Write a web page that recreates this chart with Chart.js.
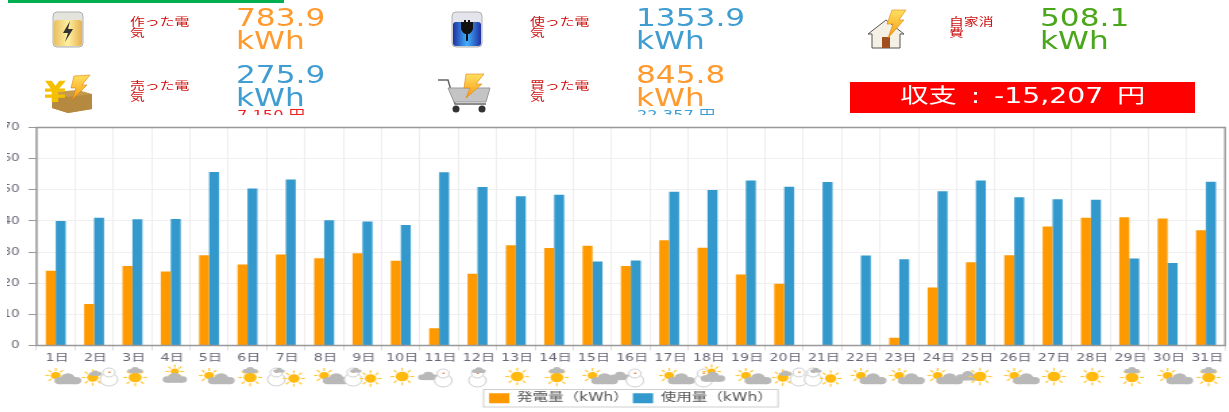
<!DOCTYPE html>
<html lang="ja">
<head>
<meta charset="utf-8">
<title>発電量と使用量</title>
<script src="https://cdn.jsdelivr.net/npm/chart.js@4"></script>
<style>
html, body { margin: 0; padding: 0; background: #fff; overflow: hidden; }
body { width: 1229px; height: 412px; position: relative; font-family: "DejaVu Sans", "Noto Sans CJK JP", sans-serif; }
.abs { position: absolute; }
#bar { left: 8px; top: 0; width: 276px; height: 3px; background: #00b050; z-index: 5; }
.name { color: #cc1111; font-size: 11px; line-height: 11px; width: 46px; transform: scaleX(1.35); transform-origin: 0 0; filter: blur(.3px); }
.val { font-size: 24px; line-height: 22.5px; width: 90px; transform: scaleX(1.3); transform-origin: 0 0; white-space: pre-line; filter: blur(.3px); }
.yenWrap { height: 7px; width: 110px; overflow: hidden; }
.yen { font-size: 12.5px; line-height: 14px; white-space: nowrap; transform: scaleX(1.3); transform-origin: 0 0; }
#balance { left: 850px; top: 82px; width: 345px; height: 31px; background: #ff0000; color: #fff; text-align: center; line-height: 29px; }
#balance span { display: inline-block; font-size: 20.5px; word-spacing: 3.5px; transform: scaleX(1.38); filter: blur(.3px); }
#wrap { left: 7px; top: 115px; width: 906px; height: 297px; transform: scaleX(1.35); transform-origin: 0 0; filter: blur(.35px); }
svg { position: absolute; filter: blur(.4px); }
</style>
</head>
<body>

<svg style="left:50px;top:9px" width="36" height="40" viewBox="0 0 36 40">
  <defs><linearGradient id="gy" x1="0" x2="1"><stop offset="0" stop-color="#e8c060"/><stop offset=".5" stop-color="#fff0a0"/><stop offset="1" stop-color="#e8b050"/></linearGradient>
  <linearGradient id="gb" x1="0" x2="1"><stop offset="0" stop-color="#2030a0"/><stop offset=".5" stop-color="#40b0ff"/><stop offset="1" stop-color="#2030a0"/></linearGradient>
  <linearGradient id="gs" x1="0" y1="0" x2="0" y2="1"><stop offset="0" stop-color="#ffe060"/><stop offset="1" stop-color="#f59a10"/></linearGradient></defs>
  <rect x="3" y="3" width="30" height="35" rx="4" fill="#e4e4dc" stroke="#b0b0b0"/>
  <rect x="4" y="11" width="28" height="26" rx="3" fill="url(#gy)"/>
  <path d="M20 12 L13 24 L18 24 L15 33 L23 20 L18 20 Z" fill="#333"/>
</svg>
<svg style="left:449px;top:9px" width="36" height="40" viewBox="0 0 36 40">
  <rect x="3" y="3" width="30" height="35" rx="4" fill="#e4e4ec" stroke="#b0b0b0"/>
  <rect x="4" y="13" width="28" height="24" rx="3" fill="url(#gb)"/>
  <path d="M12 13 h3 v-2 h2 v2 h2 v-2 h2 v2 h3 v7 q-2 5 -5 5 v7 h-2 v-7 q-3 0 -5 -5 Z" fill="#111"/>
</svg>
<svg style="left:866px;top:8px" width="44" height="42" viewBox="0 0 44 42">
  <path d="M2 26 L20 12 L38 26 L34 26 L34 40 L6 40 L6 26 Z" fill="#f4f0e4" stroke="#555"/>
  <rect x="16" y="29" width="8" height="11" fill="#a05020"/>
  <path d="M26 2 L40 2 L33 12 L38 12 L22 30 L27 16 L21 16 Z" fill="url(#gs)" stroke="#e08010" stroke-width=".6"/>
</svg>
<svg style="left:44px;top:74px" width="52" height="40" viewBox="0 0 52 40">
  <path d="M8 18 L34 16 L48 20 L48 35 L24 39 L8 34 Z" fill="#c49a4c"/>
  <path d="M8 18 L24 23 L48 20 L48 35 L24 39 L8 34 Z" fill="#b5893f"/>
  <path d="M0 8 h7 l4 6 l4 -6 h7 l-7 9 h6 v4 h-7 v3 h7 v4 h-7 v5 h-7 v-5 h-7 v-4 h7 v-3 h-7 v-4 h6 Z" fill="#f5c000" transform="translate(1 0) scale(.95 .85)"/>
  <path d="M30 2 L46 1 L38 11 L43 11 L28 26 L32 14 L27 14 Z" fill="url(#gs)" stroke="#e08010" stroke-width=".6"/>
</svg>
<svg style="left:436px;top:72px" width="58" height="42" viewBox="0 0 58 42">
  <path d="M2 8 L12 8 L19 32 L50 32" fill="none" stroke="#666" stroke-width="1.5"/>
  <path d="M12 16 L54 16 L50 30 L18 30 Z" fill="#c4c4c4" stroke="#999"/>
  <circle cx="20" cy="37" r="3.5" fill="#333"/><circle cx="46" cy="37" r="3.5" fill="#333"/>
  <path d="M30 2 L48 2 L40 12 L46 12 L30 26 L34 16 L28 16 Z" fill="url(#gs)" stroke="#e08010" stroke-width=".6"/>
</svg>

<div class="abs name" id="n0" style="left:130px;top:17px"></div>
<div class="abs name" id="n1" style="left:530px;top:17px"></div>
<div class="abs name" id="n2" style="left:949px;top:17px;width:34px"></div>
<div class="abs name" id="n3" style="left:130px;top:81px"></div>
<div class="abs name" id="n4" style="left:530px;top:81px"></div>

<div class="abs val" id="v0" style="left:236px;top:7px;color:#ff9a2e"></div>
<div class="abs val" id="v1" style="left:636px;top:7px;color:#3f9dd1"></div>
<div class="abs val" id="v2" style="left:1040px;top:7px;color:#4aa61a"></div>
<div class="abs val" id="v3" style="left:236px;top:64px;color:#3f9dd1"></div>
<div class="abs val" id="v4" style="left:636px;top:64px;color:#ff9a2e"></div>

<div class="abs yenWrap" style="left:237px;top:108px"><div class="yen" id="y0" style="color:#ee2222"></div></div>
<div class="abs yenWrap" style="left:637px;top:108px"><div class="yen" id="y1" style="color:#3f9dd1"></div></div>

<div class="abs" id="balance"><span id="balanceText"></span></div>

<div class="abs" id="wrap"><canvas id="daily" width="906" height="297"></canvas></div>

<div id="bar" class="abs"></div>

<script>
const days = ['1日','2日','3日','4日','5日','6日','7日','8日','9日','10日','11日','12日','13日','14日','15日','16日','17日','18日','19日','20日','21日','22日','23日','24日','25日','26日','27日','28日','29日','30日','31日'];
const generated = [24, 13.3, 25.5, 23.8, 29, 26, 29.2, 28, 29.6, 27.2, 5.5, 23, 32.2, 31.3, 32, 25.5, 33.8, 31.4, 22.8, 19.8, 0, 0, 2.5, 18.6, 26.7, 29, 38.2, 41, 41.2, 40.8, 37];
const used = [40, 41, 40.5, 40.6, 55.7, 50.4, 53.3, 40.2, 39.8, 38.7, 55.6, 50.9, 47.9, 48.4, 27, 27.3, 49.4, 49.9, 53, 51, 52.5, 28.9, 27.7, 49.5, 53, 47.6, 47, 46.8, 27.9, 26.5, 52.6];
const weather = ['sunCloud','sunSnow','sunTop','cloudTop','sunCloud','sunTop','snowSun','sunCloud','snowSun','sun','cloudSnow','snowTop','sun','sunTop','sunCloud','cloudSnow','sunCloud','snowCloud','sunCloud','sunSnow','snowSun','sunCloud','sunCloud','sunCloud','cloudSun','sunCloud','sun','sun','sunTop','sunCloud','sunTop'];
const kpiNames = ['作った電気','使った電気','自家消費','売った電気','買った電気'];
const kpiValues = ['783.9','1353.9','508.1','275.9','845.8'];
const kpiYen = ['7,150 円','22,357 円'];
const balanceLabel = '収支 : -15,207 円';

kpiNames.forEach((t, i) => { document.getElementById('n' + i).textContent = t; });
kpiValues.forEach((t, i) => { document.getElementById('v' + i).textContent = t + '\nkWh'; });
kpiYen.forEach((t, i) => { document.getElementById('y' + i).textContent = t; });
document.getElementById('balanceText').textContent = balanceLabel;

function sun(ctx, x, y, r){
    ctx.strokeStyle = '#ffc93c';
    ctx.lineWidth = 1.2;
    for (let a = 0; a < 8; a++) {
        const t = a * Math.PI / 4;
        ctx.beginPath();
        ctx.moveTo(x + Math.cos(t) * (r + 1), y + Math.sin(t) * (r + 1));
        ctx.lineTo(x + Math.cos(t) * (r + 4), y + Math.sin(t) * (r + 4));
        ctx.stroke();
    }
    ctx.fillStyle = '#ffb90f';
    ctx.beginPath();
    ctx.arc(x, y, r, 0, Math.PI * 2);
    ctx.fill();
}

function cloud(ctx, x, y, s){
    ctx.fillStyle = '#b8b8b8';
    ctx.beginPath();
    ctx.arc(x - 6 * s, y + 1 * s, 3.5 * s, 0, Math.PI * 2);
    ctx.arc(x, y - 1 * s, 5 * s, 0, Math.PI * 2);
    ctx.arc(x + 6 * s, y + 1 * s, 3.5 * s, 0, Math.PI * 2);
    ctx.fill();
    ctx.fillRect(x - 6 * s, y + 1 * s, 12 * s, 3.5 * s);
}

function snowman(ctx, x, y){
    ctx.fillStyle = '#fff';
    ctx.strokeStyle = '#cfcfcf';
    ctx.lineWidth = 1;
    ctx.beginPath();
    ctx.arc(x, y + 4, 6.5, 0, Math.PI * 2);
    ctx.fill();
    ctx.stroke();
    ctx.beginPath();
    ctx.arc(x, y - 3, 4.5, 0, Math.PI * 2);
    ctx.fill();
    ctx.stroke();
    ctx.fillStyle = '#f08030';
    ctx.fillRect(x - .5, y - 4, 1.5, 1.5);
}

const weatherPlugin = {
    id: 'weatherIcons',
    afterDraw(chart){
        const ctx = chart.ctx;
        const y = chart.scales.y.bottom + 31;
        ctx.save();
        weather.forEach((kind, i) => {
            const x = chart.scales.x.getPixelForValue(i);
            if (kind === 'sun') sun(ctx, x + 1, y, 4.8);
            if (kind === 'sunCloud') { sun(ctx, x, y - 1, 3.6); cloud(ctx, x + 9, y + 3, 1.05); }
            if (kind === 'sunTop') { sun(ctx, x + 2, y + 1, 4.8); cloud(ctx, x + 2, y - 6, .6); }
            if (kind === 'cloudTop') { sun(ctx, x + 3, y - 5, 3); cloud(ctx, x + 3, y + 2, .95); }
            if (kind === 'cloudSun') { cloud(ctx, x - 6, y, .9); sun(ctx, x + 3, y, 4.8); }
            if (kind === 'sunSnow') { sun(ctx, x - 1, y + 1, 4.2); cloud(ctx, x + 1, y - 3, .5); snowman(ctx, x + 11, y - 1); }
            if (kind === 'snowSun') { snowman(ctx, x - 7, y - 1); cloud(ctx, x - 5, y - 6, .45); sun(ctx, x + 6, y + 2, 4.2); }
            if (kind === 'cloudSnow') { cloud(ctx, x - 8, y, .8); snowman(ctx, x + 3, y); }
            if (kind === 'snowTop') { snowman(ctx, x, y); cloud(ctx, x + 1, y - 6, .55); }
            if (kind === 'snowCloud') { snowman(ctx, x - 3, y); sun(ctx, x + 3, y - 5, 3); cloud(ctx, x + 4, y + 1, .95); }
        });
        ctx.restore();
    }
};

const framePlugin = {
    id: 'frame',
    afterDraw(chart){
        const ctx = chart.ctx;
        const a = chart.chartArea;
        ctx.save();
        ctx.strokeStyle = '#999';
        ctx.lineWidth = 1.5;
        ctx.strokeRect(a.left, a.top, a.right - a.left, a.bottom - a.top);
        const hits = chart.legend.legendHitBoxes;
        const first = hits[0];
        const last = hits[hits.length - 1];
        ctx.strokeStyle = '#cfcfcf';
        ctx.lineWidth = 1;
        ctx.strokeRect(first.left - 4, first.top - 3, last.left + last.width + 8 - first.left, first.height + 6);
        ctx.restore();
    }
};

const data = {
    labels: days,
    datasets: [
        { label: '発電量（kWh）', data: generated, backgroundColor: '#ff9900', categoryPercentage: .52, barPercentage: 1 },
        { label: '使用量（kWh）', data: used, backgroundColor: '#3399cc', categoryPercentage: .52, barPercentage: 1 }
    ]
};

const config = {
    type: 'bar',
    data: data,
    options: {
        responsive: false,
        animation: false,
        devicePixelRatio: 1,
        layout: { padding: { top: 10.5, right: 3.7, left: 0, bottom: -2 } },
        plugins: {
            tooltip: { enabled: false },
            legend: {
                position: 'bottom',
                fullSize: false,
                labels: {
                    boxWidth: 15,
                    boxHeight: 10,
                    padding: 3,
                    color: '#555',
                    font: { size: 11.5, family: '"DejaVu Sans", "Noto Sans CJK JP", sans-serif' }
                }
            }
        },
        scales: {
            x: {
                grid: { color: '#eeeeee', tickColor: '#dddddd', tickLength: 5 },
                border: { display: false },
                ticks: {
                    autoSkip: false,
                    maxRotation: 0,
                    labelOffset: 1,
                    padding: 1,
                    color: '#667',
                    font: { size: 10.5, family: '"DejaVu Sans", "Noto Sans CJK JP", sans-serif' }
                },
                afterFit(scale){ scale.height = 44; }
            },
            y: {
                min: 0,
                max: 70,
                ticks: {
                    stepSize: 10,
                    padding: 6.5,
                    color: '#667',
                    font: { size: 10, family: '"DejaVu Sans", sans-serif' }
                },
                grid: { color: '#f0f0f0', tickColor: '#999', tickLength: 6 },
                border: { display: false },
                afterFit(scale){ scale.width = 21.9; }
            }
        }
    },
    plugins: [weatherPlugin, framePlugin]
};

const myChart = new Chart(document.getElementById('daily'), config);
</script>
</body>
</html>
